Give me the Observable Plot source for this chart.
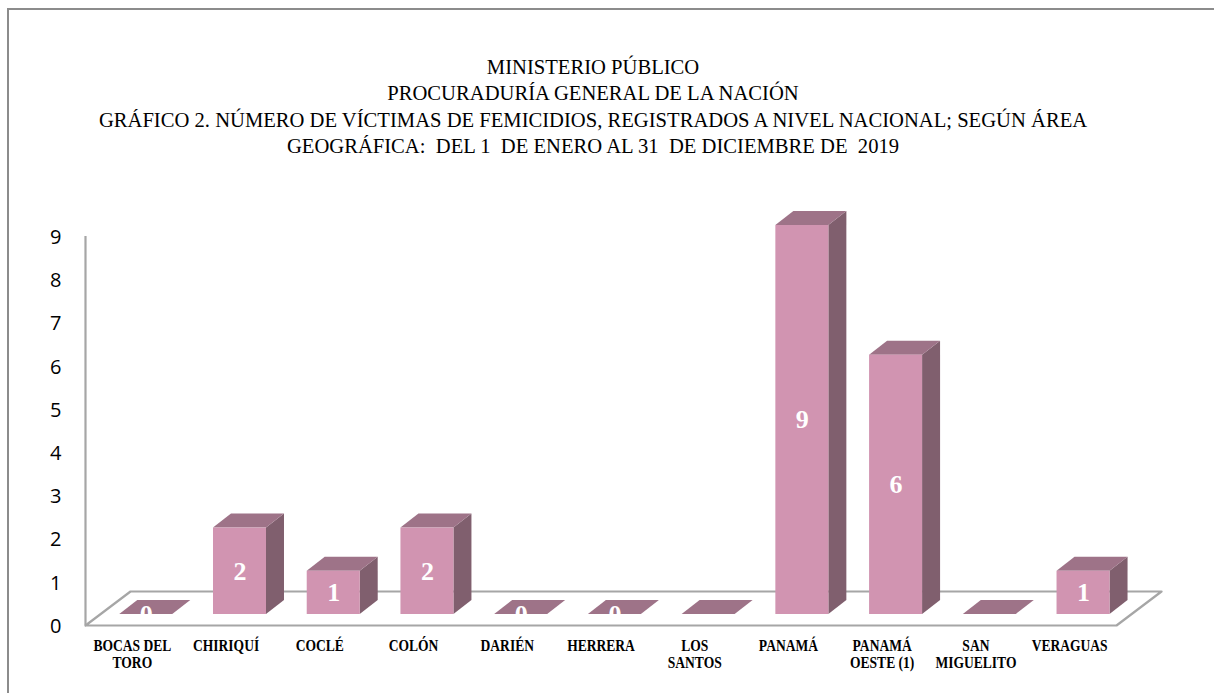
<!DOCTYPE html>
<html><head><meta charset="utf-8">
<script src="https://cdn.jsdelivr.net/npm/d3@7"></script>
<script src="https://cdn.jsdelivr.net/npm/@observablehq/plot@0.6"></script>
<style>
html,body{margin:0;padding:0;background:#fff;}
#wrap{position:relative;width:1214px;height:693px;overflow:hidden;background:#fff;}
#frame{position:absolute;left:7px;top:8px;right:-6px;bottom:-6px;border-top:2px solid #8c8c8c;border-left:2px solid #8c8c8c;}
#chart{position:absolute;left:0;top:0;}
#title{position:absolute;left:0;top:0;}
</style></head><body>
<div id="wrap"><div id="frame"></div><div id="chart"></div><svg id="title" width="1214" height="170" xmlns="http://www.w3.org/2000/svg"></svg></div>
<script>
const titleLines = [
  "MINISTERIO PÚBLICO",
  "PROCURADURÍA GENERAL DE LA NACIÓN",
  "GRÁFICO 2. NÚMERO DE VÍCTIMAS DE FEMICIDIOS, REGISTRADOS A NIVEL NACIONAL; SEGÚN ÁREA",
  "GEOGRÁFICA:  DEL 1  DE ENERO AL 31  DE DICIEMBRE DE  2019"
];
const categories = ["BOCAS DEL TORO","CHIRIQUÍ","COCLÉ","COLÓN","DARIÉN","HERRERA","LOS SANTOS","PANAMÁ","PANAMÁ OESTE (1)","SAN MIGUELITO","VERAGUAS"];
const tickLabels = ["BOCAS DEL\nTORO","CHIRIQUÍ","COCLÉ","COLÓN","DARIÉN","HERRERA","LOS\nSANTOS","PANAMÁ","PANAMÁ\nOESTE (1)","SAN\nMIGUELITO","VERAGUAS"];
const victims = [0, 2, 1, 2, 0, 0, null, 9, 6, null, 1];
const yTicks = [0, 1, 2, 3, 4, 5, 6, 7, 8, 9];

// ---- layout (pixels) ----
const W = 1214, H = 693;
const mL = 85, mR = 98, mT = 236, mB = 68;
const ux = (W - mL - mR) / categories.length;   // px per category
const uy = (H - mT - mB) / 9;                    // px per unit
const frontOffX = -12.6 / ux, barW = 53 / ux;
const y0 = 11 / uy;                 // bar front sits slightly back on the floor
const dX = 18 / ux, dY = 14 / uy;   // bar depth
const fDX = 45 / ux, fDY = 34 / uy; // floor depth

const bars = categories.map((c, i) => {
  const xl = i + 0.5 + frontOffX;
  return {c, i, v: victims[i] ?? 0, label: victims[i] == null ? null : String(victims[i]), xl, xr: xl + barW};
});
const topFaces = bars.flatMap(b => [
  {c: b.c, y: y0 + b.v, x1: b.xl, x2: b.xr},
  {c: b.c, y: y0 + b.v + dY, x1: b.xl + dX, x2: b.xr + dX}
]);
const sideFaces = bars.filter(b => b.v > 0).flatMap(b => [
  {c: b.c, x: b.xr, y1: y0, y2: y0 + b.v},
  {c: b.c, x: b.xr + dX, y1: y0 + dY, y2: y0 + b.v + dY}
]);
const n = categories.length;
const floor = [{x: 0, y: 0}, {x: n, y: 0}, {x: n + fDX, y: fDY}, {x: fDX, y: fDY}, {x: 0, y: 0}];
const xlab = tickLabels.map((t, i) => ({t, i}));

const plot = Plot.plot({
  width: W, height: H,
  marginLeft: mL, marginRight: mR, marginTop: mT, marginBottom: mB,
  style: {fontFamily: "'Open Sans', sans-serif", fontSize: "19px", background: "transparent", color: "#000", overflow: "visible"},
  x: {domain: [0, n], axis: null},
  y: {domain: [0, 9], axis: null},
  marks: [
    Plot.line(floor, {x: "x", y: "y", stroke: "#a6a6a6", strokeWidth: 2.2, curve: "linear"}),
    Plot.ruleX([0], {y1: () => 0, y2: () => 9, stroke: "#a6a6a6", strokeWidth: 2.2}),
    Plot.text(yTicks, {
      x: () => 0, y: d => d, text: d => String(d), dx: -24, dy: 1, textAnchor: "end",
      fill: "#000", fontFamily: "'Open Sans', sans-serif", fontSize: 20
    }),
    Plot.areaY(sideFaces, {x: "x", y1: "y1", y2: "y2", z: "c", fill: "#805F6E", curve: "linear"}),
    Plot.areaX(topFaces, {y: "y", x1: "x1", x2: "x2", z: "c", fill: "#9E7388", curve: "linear"}),
    Plot.rect(bars.filter(b => b.v > 0), {x1: "xl", x2: "xr", y1: () => y0, y2: d => y0 + d.v, fill: "#D194B1"}),
    Plot.text(bars.filter(b => b.label != null), {
      x: d => (d.xl + d.xr) / 2, y: d => y0 + d.v / 2, text: "label",
      fill: "white", fontFamily: "'Liberation Serif', serif", fontWeight: "bold", fontSize: 26
    }),
    Plot.text(xlab, {
      x: d => d.i + 0.5, y: () => 0, text: "t", dy: 13, lineAnchor: "top", lineHeight: 1.02,
      fill: "#000", fontFamily: "'Liberation Serif', serif", fontWeight: "bold", fontSize: 17
    })
  ]
});
document.getElementById("chart").appendChild(plot);

// condense category labels horizontally to the reference width
const labelSet = new Set(tickLabels.map(s => s.replace(/\n/g, "")));
const cv = document.createElement("canvas").getContext("2d");
cv.font = "bold 17px 'Liberation Serif'";
const kx = 78 / cv.measureText("BOCAS DEL").width;
plot.querySelectorAll("text").forEach(t => {
  if (labelSet.has(t.textContent)) {
    let tr = t.getAttribute("transform");
    if (!tr) {
      tr = `translate(${t.getAttribute("x") || 0},${t.getAttribute("y") || 0})`;
      t.removeAttribute("x"); t.removeAttribute("y");
    }
    t.setAttribute("transform", tr + ` scale(${kx},1)`);
  }
});

// title
const tsvg = document.getElementById("title");
cv.font = "22px 'Liberation Serif'";
const kt = 992 / cv.measureText(titleLines[2]).width;
const baselines = [74, 100, 127, 153];
titleLines.forEach((line, i) => {
  const t = document.createElementNS("http://www.w3.org/2000/svg", "text");
  t.setAttribute("transform", `translate(593,${baselines[i]}) scale(${kt},1)`);
  t.setAttribute("text-anchor", "middle");
  t.setAttribute("font-family", "'Liberation Serif', serif");
  t.setAttribute("font-size", "22");
  t.setAttribute("fill", "#000");
  t.style.whiteSpace = "pre";
  t.textContent = line;
  tsvg.appendChild(t);
});
</script>
</body></html>
